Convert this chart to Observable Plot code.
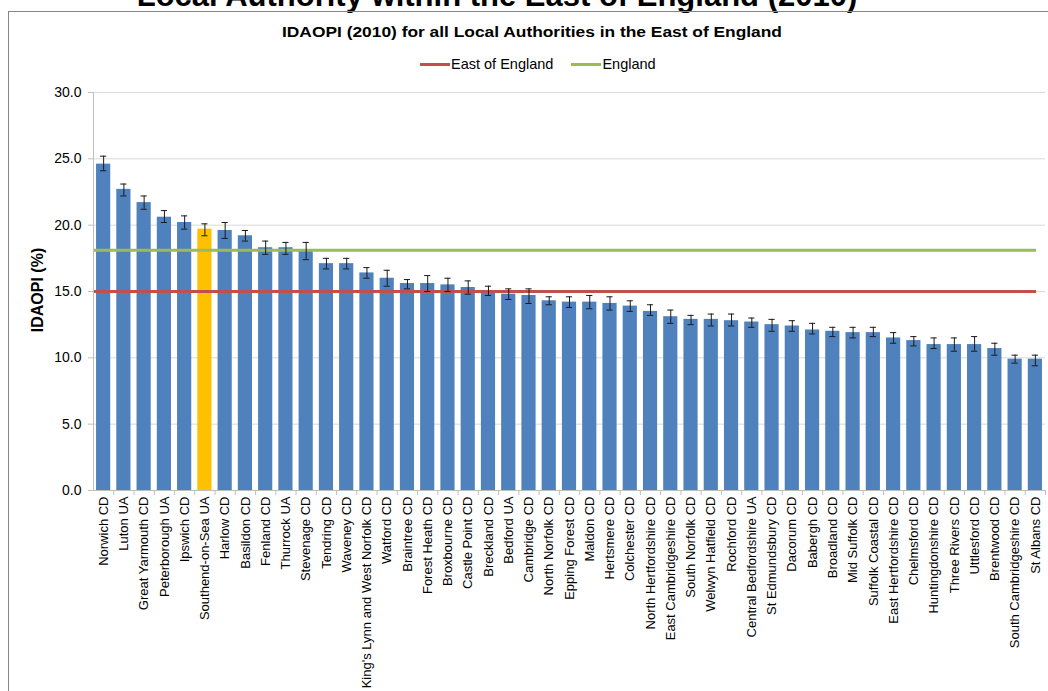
<!DOCTYPE html>
<html>
<head>
<meta charset="utf-8">
<script src="https://cdn.jsdelivr.net/npm/d3@7"></script>
<script src="https://cdn.jsdelivr.net/npm/@observablehq/plot@0.6"></script>
<style>
  html, body { margin: 0; padding: 0; background: #fff; }
  #wrap { position: relative; width: 1048px; height: 691px; overflow: hidden; font-family: "Liberation Sans", Arial, sans-serif; color: #000; }
  #bigtitle { position: absolute; left: 0; top: -20px; width: 994px; text-align: center; font-size: 31px; font-weight: bold; line-height: 32px; white-space: nowrap; }
  #frame { position: absolute; left: 8px; top: 11px; width: 1100px; height: 700px; border-left: 1px solid #868686; border-top: 1px solid #868686; }
  #title { position: absolute; left: 0; top: 24px; width: 1064px; text-align: center; font-size: 14px; font-weight: bold; line-height: 16px; white-space: nowrap; transform: scaleX(1.24); transform-origin: 532px 50%; }
  #legend { position: absolute; left: 420px; top: 56px; display: flex; align-items: center; font-size: 14.5px; line-height: 17px; white-space: nowrap; }
  #legend .sw { display: inline-block; width: 30px; height: 3px; margin-right: 1px; }
  #legend .item { display: flex; align-items: center; margin-right: 18px; }
  #ylabel { position: absolute; left: 38px; top: 290px; transform: translate(-50%, -50%) rotate(-90deg); font-size: 16px; font-weight: bold; white-space: nowrap; }
  #chart { position: absolute; left: 0; top: 80px; }
</style>
</head>
<body>
<div id="wrap">
  <div id="bigtitle">Local Authority within the East of England (2010)</div>
  <div id="frame"></div>
  <div id="title">IDAOPI (2010) for all Local Authorities in the East of England</div>
  <div id="legend"></div>
  <div id="ylabel">IDAOPI (%)</div>
  <div id="chart"></div>
</div>
<script>
const categories = [
  "Norwich CD", "Luton UA", "Great Yarmouth CD", "Peterborough UA", "Ipswich CD",
  "Southend-on-Sea UA", "Harlow CD", "Basildon CD", "Fenland CD", "Thurrock UA",
  "Stevenage CD", "Tendring CD", "Waveney CD", "King's Lynn and West Norfolk CD", "Watford CD",
  "Braintree CD", "Forest Heath CD", "Broxbourne CD", "Castle Point CD", "Breckland CD",
  "Bedford UA", "Cambridge CD", "North Norfolk CD", "Epping Forest CD", "Maldon CD",
  "Hertsmere CD", "Colchester CD", "North Hertfordshire CD", "East Cambridgeshire CD", "South Norfolk CD",
  "Welwyn Hatfield CD", "Rochford CD", "Central Bedfordshire UA", "St Edmundsbury CD", "Dacorum CD",
  "Babergh CD", "Broadland CD", "Mid Suffolk CD", "Suffolk Coastal CD", "East Hertfordshire CD",
  "Chelmsford CD", "Huntingdonshire CD", "Three Rivers CD", "Uttlesford CD", "Brentwood CD",
  "South Cambridgeshire CD", "St Albans CD"
];
const values = [
  24.6, 22.7, 21.7, 20.6, 20.2,
  19.7, 19.6, 19.2, 18.3, 18.3,
  18.1, 17.1, 17.1, 16.4, 16.0,
  15.6, 15.6, 15.5, 15.3, 15.0,
  14.8, 14.7, 14.3, 14.2, 14.2,
  14.1, 13.9, 13.5, 13.1, 12.9,
  12.9, 12.8, 12.7, 12.5, 12.4,
  12.1, 12.0, 11.9, 11.9, 11.5,
  11.3, 11.0, 11.0, 11.0, 10.7,
  9.9, 9.9
];
const lower = [
  24.1, 22.2, 21.2, 20.2, 19.7,
  19.2, 19.0, 18.8, 17.8, 17.8,
  17.4, 16.7, 16.7, 16.0, 15.4,
  15.2, 15.0, 15.0, 14.8, 14.7,
  14.4, 14.1, 14.0, 13.8, 13.7,
  13.6, 13.5, 13.2, 12.6, 12.5,
  12.4, 12.4, 12.3, 12.0, 12.0,
  11.8, 11.6, 11.5, 11.6, 11.1,
  10.9, 10.7, 10.5, 10.5, 10.2,
  9.6, 9.4
];
const upper = [
  25.2, 23.1, 22.2, 21.1, 20.7,
  20.1, 20.2, 19.6, 18.8, 18.7,
  18.7, 17.5, 17.5, 16.8, 16.6,
  15.9, 16.2, 16.0, 15.8, 15.4,
  15.2, 15.2, 14.6, 14.6, 14.7,
  14.6, 14.3, 14.0, 13.6, 13.2,
  13.3, 13.3, 13.0, 12.9, 12.8,
  12.6, 12.3, 12.3, 12.3, 11.9,
  11.6, 11.5, 11.5, 11.6, 11.1,
  10.2, 10.2
];
const highlighted = "Southend-on-Sea UA";
const referenceNames = ["East of England", "England"];
const referenceValues = [15.0, 18.1];
const yTicks = [0, 5, 10, 15, 20, 25, 30];

const barColor = "#4f81bd";
const highlightColor = "#ffc000";
const refColors = ["#c0504d", "#9bbb59"];

const data = categories.map((name, i) => ({name, value: values[i], lo: lower[i], hi: upper[i]}));
const refs = referenceNames.map((name, i) => ({name, value: referenceValues[i], color: refColors[i]}));

// legend
const legend = document.getElementById("legend");
refs.forEach(r => {
  const item = document.createElement("span");
  item.className = "item";
  item.innerHTML = `<span class="sw" style="background:${r.color}"></span><span>${r.name}</span>`;
  legend.appendChild(item);
});

const W = 1048, H = 611, ML = 93, MR = 3, MT = 12, MB = 201;
const step = (W - ML - MR) / categories.length;

const chart = Plot.plot({
  width: W,
  height: H,
  marginLeft: ML,
  marginRight: MR,
  marginTop: MT,
  marginBottom: MB,
  style: {fontFamily: "Liberation Sans, Arial, sans-serif", color: "#000", background: "transparent"},
  x: {domain: categories, paddingInner: 0.3, paddingOuter: 0.15, round: false, label: null},
  y: {domain: [0, 30], label: null},
  marks: [
    Plot.gridY(yTicks.filter(t => t > 0), {stroke: "#d9d9d9", strokeOpacity: 1, strokeWidth: 1}),
    Plot.barY(data, {x: "name", y: "value", fill: d => d.name === highlighted ? highlightColor : barColor}),
    Plot.ruleY(refs, {y: "value", stroke: "color", strokeWidth: 3, insetRight: 9}),
    Plot.ruleX(data, {x: "name", y1: "lo", y2: "hi", stroke: "#1a1a1a", strokeWidth: 1}),
    Plot.tickY(data, {x: "name", y: "lo", stroke: "#1a1a1a", strokeWidth: 1, insetLeft: 4, insetRight: 4}),
    Plot.tickY(data, {x: "name", y: "hi", stroke: "#1a1a1a", strokeWidth: 1, insetLeft: 4, insetRight: 4}),
    Plot.ruleY([0], {stroke: "#bfbfbf"}),
    Plot.ruleX([categories[0]], {y1: 0, y2: 30, dx: -step / 2, stroke: "#bfbfbf"}),
    Plot.axisY({ticks: yTicks, tickFormat: d3.format(".1f"), tickSize: 5, tickPadding: 7, fontSize: 14, stroke: "#bfbfbf", fill: "#000", label: null}),
    Plot.axisX({tickSize: 5, tickFormat: () => "", dx: step / 2, stroke: "#bfbfbf", label: null}),
    Plot.axisX({tickSize: 0, tickPadding: 6, tickRotate: -90, fontSize: 13, fill: "#000", label: null})
  ]
});
document.getElementById("chart").appendChild(chart);
</script>
</body>
</html>
